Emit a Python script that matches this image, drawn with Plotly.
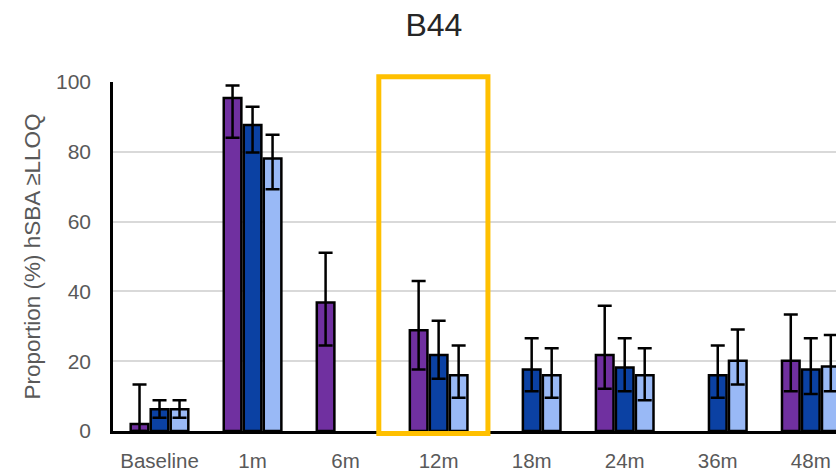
import plotly.graph_objects as go

# Time points and hSBA responder proportions (%) with 95% CI bounds
timepoints = ["Baseline", "1m", "6m", "12m", "18m", "24m", "36m", "48m"]

grp_a = [2.0, 95.4, 36.8, 28.9, None, 21.8, None, 20.1]
grp_a_hi = [13.3, 99.0, 51.1, 43.0, None, 35.9, None, 33.4]
grp_a_lo = [0.0, 84.0, 24.5, 17.6, None, 12.1, None, 11.4]

grp_b = [6.2, 87.7, None, 21.8, 17.6, 18.2, 16.0, 17.6]
grp_b_hi = [8.8, 92.9, None, 31.6, 26.6, 26.6, 24.5, 26.6]
grp_b_lo = [3.8, 79.8, None, 15.0, 11.4, 11.4, 9.5, 10.6]

grp_c = [6.2, 78.1, None, 16.0, 16.0, 16.0, 20.1, 18.5]
grp_c_hi = [8.8, 84.9, None, 24.5, 23.7, 23.7, 29.1, 27.5]
grp_c_lo = [3.8, 69.3, None, 9.5, 9.5, 8.8, 13.3, 11.4]

highlight = "12m"

colors = ["#7030A0", "#0B41A3", "#99B9F6"]


def err(vals, hi, lo):
    plus = [None if v is None else h - v for v, h in zip(vals, hi)]
    minus = [None if v is None else v - l for v, l in zip(vals, lo)]
    return plus, minus


fig = go.Figure()
for vals, hi, lo, col in [
    (grp_a, grp_a_hi, grp_a_lo, colors[0]),
    (grp_b, grp_b_hi, grp_b_lo, colors[1]),
    (grp_c, grp_c_hi, grp_c_lo, colors[2]),
]:
    plus, minus = err(vals, hi, lo)
    fig.add_trace(go.Bar(
        x=timepoints, y=vals,
        marker=dict(color=col, line=dict(color="black", width=2.5)),
        error_y=dict(type="data", symmetric=False, array=plus, arrayminus=minus,
                     color="black", thickness=2.5, width=7),
        showlegend=False,
    ))

hi_idx = timepoints.index(highlight)
fig.add_shape(type="rect", xref="x", yref="paper",
              x0=hi_idx - 0.643, x1=hi_idx + 0.53, y0=-0.007, y1=1.015,
              line=dict(color="#FFC000", width=5), fillcolor="rgba(0,0,0,0)",
              layer="above")

fig.update_layout(
    width=836, height=472,
    margin=dict(l=113, r=0, t=82, b=39),
    paper_bgcolor="white", plot_bgcolor="white",
    barmode="group", bargap=0.355, bargroupgap=0.12,
    font=dict(family="Liberation Sans, Arial, sans-serif", color="#595959"),
    title=dict(text="B44", x=0.519, xanchor="center", y=0.947, yanchor="middle",
               font=dict(size=32, color="#262626")),
    xaxis=dict(range=[-0.5, 7.271], showline=True, linecolor="black", linewidth=2.5,
               ticks="", tickfont=dict(size=20.5, color="#595959"),
               ticklabelstandoff=10, showgrid=False),
    yaxis=dict(range=[0, 100], dtick=20, showline=True, linecolor="black", linewidth=2.5,
               showgrid=True, gridcolor="#D9D9D9", gridwidth=2, zeroline=False,
               ticks="", tickfont=dict(size=21, color="#595959"),
               ticklabelstandoff=15,
               title=dict(text="Proportion (%) hSBA ≥LLOQ", standoff=10,
                          font=dict(size=22.5, color="#595959"))),
)

fig.write_html("out.html")
